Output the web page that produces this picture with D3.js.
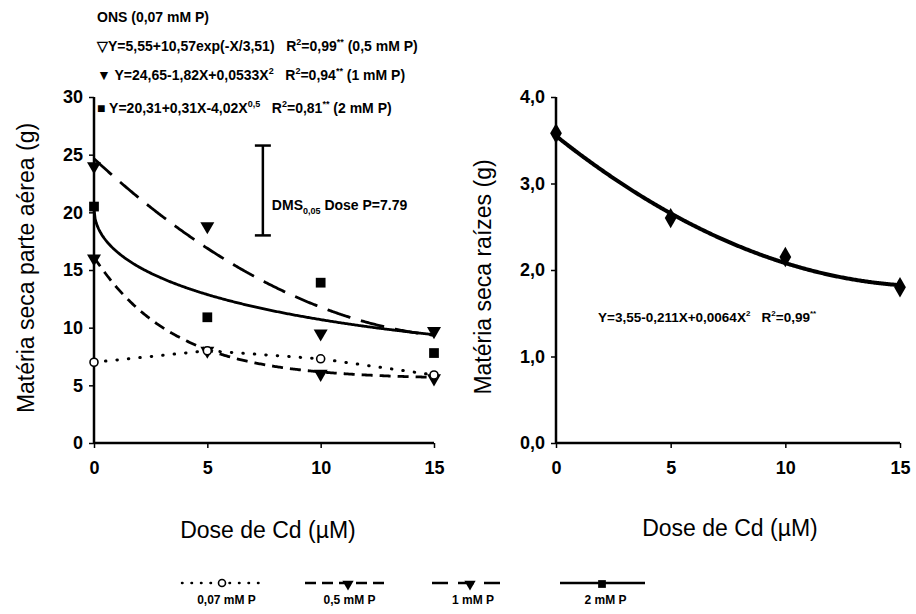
<!DOCTYPE html>
<html>
<head>
<meta charset="utf-8">
<script src="https://d3js.org/d3.v7.min.js"></script>
<style>
  body { margin: 0; background: white; }
  svg text { font-family: "Liberation Sans", Arial, sans-serif; fill: black; }
  .tick text { font-size: 18px; font-weight: bold; }
  .eq { font-size: 14px; font-weight: bold; }
  .axlabel { font-size: 23px; }
</style>
</head>
<body>
<svg width="916" height="614"></svg>
<script>
// doses of Cd (uM)
var doses = [0, 5, 10, 15];
var xTicks = [0, 5, 10, 15];
var yTicksLeft = [0, 5, 10, 15, 20, 25, 30];
var yTicksRight = [0, 1, 2, 3, 4];

// shoot dry matter (g), one array per P level
var shoot007 = [7.0, 8.0, 7.3, 5.9];
var shoot05 = [16.0, 8.0, 6.0, 5.6];
var shoot1 = [24.0, 18.8, 9.5, 9.7];
var shoot2 = [20.5, 10.9, 13.9, 7.8];
// root dry matter (g)
var roots = [3.58, 2.6, 2.15, 1.8];

// fitted equations printed on the chart
var coef05 = [5.55, 10.57, 3.51];      // a + b*exp(-X/c)
var coef1 = [24.65, -1.82, 0.0533];    // a + bX + cX^2
var coef2 = [20.31, 0.31, -4.02];      // a + bX + cX^0.5
var coefRoot = [3.55, -0.211, 0.0064]; // a + bX + cX^2
var dms = [18.0, 25.79];               // DMS 0,05 = 7.79

var svg = d3.select('svg');

var xL = d3.scaleLinear().domain([0, 15]).range([94, 434]);
var yL = d3.scaleLinear().domain([0, 30]).range([443, 97]);
var xR = d3.scaleLinear().domain([0, 15]).range([556, 900]);
var yR = d3.scaleLinear().domain([0, 4]).range([443, 97]);

function drawAxes(x, y, yt, fmt) {
  var gx = svg.append('g').attr('transform', 'translate(0,' + y(0) + ')')
    .call(d3.axisBottom(x).tickValues(xTicks).tickSize(5).tickPadding(13));
  var gy = svg.append('g').attr('transform', 'translate(' + x(0) + ',0)')
    .call(d3.axisLeft(y).tickValues(yt).tickSize(5).tickPadding(6).tickFormat(fmt));
  gx.select('.domain').attr('stroke-width', 2.5).attr('d', 'M' + x(0) + ',0H' + x(15));
  gy.select('.domain').attr('stroke-width', 2.5).attr('d', 'M0,' + y(0) + 'V' + y(yt[yt.length - 1]));
  svg.selectAll('.tick line').attr('stroke-width', 1.5);
}
drawAxes(xL, yL, yTicksLeft, d3.format('d'));
drawAxes(xR, yR, yTicksRight, function(d) { return d3.format('.1f')(d).replace('.', ','); });

// curves
var fine = d3.range(0, 15.001, 0.05);
var f05 = function(X) { return coef05[0] + coef05[1] * Math.exp(-X / coef05[2]); };
var f1 = function(X) { return coef1[0] + coef1[1] * X + coef1[2] * X * X; };
var f2 = function(X) { return coef2[0] + coef2[1] * X + coef2[2] * Math.sqrt(X); };
var fR = function(X) { return coefRoot[0] + coefRoot[1] * X + coefRoot[2] * X * X; };

function curve(x, y, f, dash, w) {
  svg.append('path')
    .datum(fine)
    .attr('fill', 'none').attr('stroke', 'black')
    .attr('stroke-width', w)
    .attr('stroke-dasharray', dash)
    .attr('d', d3.line().x(function(d) { return x(d); }).y(function(d) { return y(f(d)); }));
}
curve(xL, yL, f05, '11,7', 2.8);
curve(xL, yL, f1, '24,11', 2.8);
curve(xL, yL, f2, null, 2.8);
curve(xR, yR, fR, null, 4);

// NS series: dotted through means
svg.append('path')
  .datum(shoot007)
  .attr('fill', 'none').attr('stroke', 'black')
  .attr('stroke-width', 3).attr('stroke-linecap', 'round')
  .attr('stroke-dasharray', '0.5,11')
  .attr('d', d3.line().x(function(d, i) { return xL(doses[i]); }).y(function(d) { return yL(d); }));

// markers
var tri = d3.symbol().type(d3.symbolTriangle).size(85);
var sq = d3.symbol().type(d3.symbolSquare).size(95);
var dia = d3.symbol().type(d3.symbolDiamond).size(120);

function markers(x, y, vals, sym, rot) {
  svg.append('g').selectAll('path').data(vals).enter().append('path')
    .attr('d', sym)
    .attr('transform', function(d, i) { return 'translate(' + x(doses[i]) + ',' + y(d) + ') rotate(' + rot + ')'; })
    .attr('fill', 'black');
}
markers(xL, yL, shoot2, sq, 0);
markers(xL, yL, shoot1, tri, 180);
markers(xL, yL, shoot05, tri, 180);
svg.append('g').selectAll('circle').data(shoot007).enter().append('circle')
  .attr('cx', function(d, i) { return xL(doses[i]); })
  .attr('cy', function(d) { return yL(d); })
  .attr('r', 4).attr('fill', 'white').attr('stroke', 'black').attr('stroke-width', 1.6);
markers(xR, yR, roots, dia, 0);

// rich text: parts of [text, 'sup' | 'sub' | undefined]
function rich(x, y, parts, size) {
  var t = svg.append('text').attr('class', 'eq').attr('x', x).attr('y', y)
    .attr('xml:space', 'preserve');
  if (size) t.style('font-size', size + 'px');
  var small = Math.round((size || 14) * 0.62);
  var shift = 0;
  parts.forEach(function(p) {
    var target = p[1] === 'sup' ? -6 : p[1] === 'sub' ? 4 : 0;
    var s = t.append('tspan').text(p[0]).attr('dy', target - shift);
    if (p[1]) s.style('font-size', small + 'px');
    shift = target;
  });
}

// DMS bar
var xd = xL(7.45);
svg.append('line').attr('x1', xd).attr('x2', xd).attr('y1', yL(dms[0])).attr('y2', yL(dms[1]))
  .attr('stroke', 'black').attr('stroke-width', 2.5);
dms.forEach(function(v) {
  svg.append('line').attr('x1', xd - 8).attr('x2', xd + 8).attr('y1', yL(v)).attr('y2', yL(v))
    .attr('stroke', 'black').attr('stroke-width', 2.5);
});
rich(xd + 9, 210, [['DMS'], ['0,05', 'sub'], [' Dose P=7.79']]);

// equations, top-left
rich(97, 22, [['ONS (0,07 mM P)']]);
rich(97, 51, [['\u25BDY=5,55+10,57exp(-X/3,51)   R'], ['2', 'sup'], ['=0,99'], ['**', 'sup'], [' (0,5 mM P)']]);
rich(97, 80, [['\u25BC Y=24,65-1,82X+0,0533X'], ['2', 'sup'], ['   R'], ['2', 'sup'], ['=0,94'], ['**', 'sup'], [' (1 mM P)']]);
rich(97, 113, [['\u25A0 Y=20,31+0,31X-4,02X'], ['0,5', 'sup'], ['   R'], ['2', 'sup'], ['=0,81'], ['**', 'sup'], [' (2 mM P)']]);

// root equation
rich(598, 322, [['Y=3,55-0,211X+0,0064X'], ['2', 'sup'], ['   R'], ['2', 'sup'], ['=0,99'], ['**', 'sup']], 13.5);

// axis titles
svg.append('text').attr('class', 'axlabel').attr('text-anchor', 'middle')
  .attr('transform', 'translate(34,268) rotate(-90)').text('Matéria seca parte aérea (g)');
svg.append('text').attr('class', 'axlabel').attr('text-anchor', 'middle')
  .attr('transform', 'translate(491,277) rotate(-90)').text('Matéria seca raízes (g)');
svg.append('text').attr('class', 'axlabel').attr('text-anchor', 'middle')
  .attr('x', 268).attr('y', 538).text('Dose de Cd (\u00B5M)');
svg.append('text').attr('class', 'axlabel').attr('text-anchor', 'middle')
  .attr('x', 730).attr('y', 536).text('Dose de Cd (\u00B5M)');

// bottom legend
var legend = [
  { label: '0,07 mM P', x0: 182, x1: 265, m: 222, dash: '0.5,9', kind: 'circle' },
  { label: '0,5 mM P', x0: 305, x1: 388, m: 348, dash: '11,6', kind: 'tri' },
  { label: '1 mM P', x0: 432, x1: 508, m: 470, dash: '16,10', kind: 'tri' },
  { label: '2 mM P', x0: 560, x1: 645, m: 602, dash: null, kind: 'sq' }
];
var ly = 583;
legend.forEach(function(l) {
  svg.append('line').attr('x1', l.x0).attr('x2', l.x1).attr('y1', ly).attr('y2', ly)
    .attr('stroke', 'black').attr('stroke-width', 2.5)
    .attr('stroke-linecap', l.kind === 'circle' ? 'round' : 'butt')
    .attr('stroke-dasharray', l.dash);
  if (l.kind === 'circle') {
    svg.append('circle').attr('cx', l.m).attr('cy', ly).attr('r', 3.5)
      .attr('fill', 'white').attr('stroke', 'black').attr('stroke-width', 1.6);
  } else {
    svg.append('path').attr('d', l.kind === 'tri' ? d3.symbol().type(d3.symbolTriangle).size(55)() : d3.symbol().type(d3.symbolSquare).size(60)())
      .attr('transform', 'translate(' + l.m + ',' + (ly + 1) + ') rotate(' + (l.kind === 'tri' ? 180 : 0) + ')');
  }
  svg.append('text').attr('class', 'eq').attr('text-anchor', 'middle').style('font-size', '12px')
    .attr('x', (l.x0 + l.x1) / 2 + 3).attr('y', 604).text(l.label);
});
</script>
</body>
</html>
